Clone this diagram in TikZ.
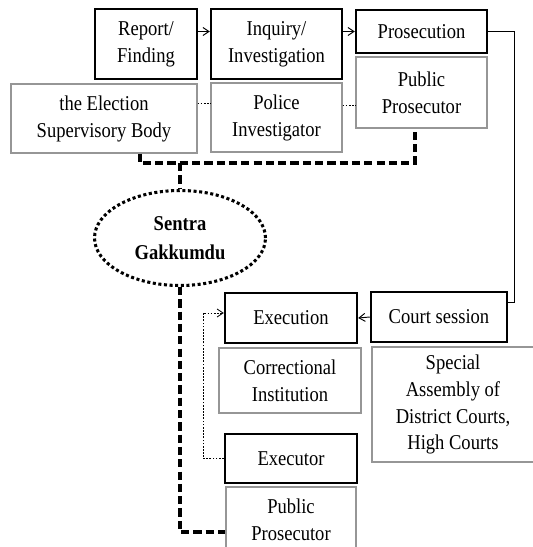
\documentclass[tikz,border=0pt]{standalone}
\usepackage{fontspec}
\setmainfont{Liberation Serif}[FakeStretch=0.88]
\usepackage{tikz}
\usetikzlibrary{shapes.geometric, arrows.meta, positioning, calc}
\definecolor{boxgray}{RGB}{150, 150, 150}

\begin{document}
\begin{tikzpicture}[
    x=0.03cm, y=-0.03cm,
    >={Straight Barb[length=1.8mm, width=2.4mm]},
    stage/.style={
        rectangle, draw=black, line width=2.1pt, inner sep=0pt,
        align=center, font=\fontsize{18}{23}\selectfont
    },
    actor/.style={
        rectangle, draw=boxgray, line width=0.9pt, inner sep=0pt,
        align=center, font=\fontsize{18}{23}\selectfont
    },
    hub/.style={
        ellipse, draw=black, line width=2.6pt, dash pattern=on 2.6pt off 2.2pt,
        inner sep=0pt, align=center, font=\fontsize{18}{25}\selectfont\bfseries
    },
    flow/.style={draw=black, line width=0.8pt},
    link/.style={draw=black, line width=0.7pt, dash pattern=on 1.5pt off 1.2pt},
    bus/.style={draw=black, line width=2.6pt, dash pattern=on 7pt off 3.5pt}
]
    \useasboundingbox (0,0) rectangle (533,547);

    % Top row: process stages
    \node[stage, minimum width=3.06cm, minimum height=2.1cm] (report) at (146, 44) {Report/\\Finding};
    \node[stage, minimum width=3.93cm, minimum height=2.1cm] (inquiry) at (276.5, 44) {Inquiry/\\Investigation};
    \node[stage, minimum width=3.93cm, minimum height=1.29cm] (prosec) at (421.5, 31.5) {Prosecution};

    % Second row: actors of the stages
    \node[actor, minimum width=5.58cm, minimum height=2.07cm] (bawaslu) at (104, 118.5) {the Election\\Supervisory Body};
    \node[actor, minimum width=3.93cm, minimum height=2.07cm] (police) at (276.5, 117.5) {Police\\Investigator};
    \node[actor, minimum width=3.93cm, minimum height=2.13cm] (pp_top) at (421.5, 92.5) {Public\\Prosecutor};

    % Centre: integrated law enforcement centre
    \node[hub, minimum width=5.13cm, minimum height=2.85cm] (gakkumdu) at (180, 238) {Sentra\\Gakkumdu};

    % Lower part: court and execution
    \node[stage, minimum width=4.08cm, minimum height=1.5cm] (court) at (439, 317) {Court session};
    \node[stage, minimum width=3.96cm, minimum height=1.5cm] (execution) at (291, 318) {Execution};
    \node[actor, minimum width=4.26cm, minimum height=1.95cm] (correct) at (290, 380.5) {Correctional\\Institution};
    \node[actor, minimum width=4.86cm, minimum height=3.45cm] (special) at (453, 404.5) {Special\\Assembly of\\District Courts,\\High Courts};
    \node[stage, minimum width=3.96cm, minimum height=1.47cm] (executor) at (291, 458.5) {Executor};
    \node[actor, minimum width=3.9cm, minimum height=1.98cm] (pp_bot) at (291, 520) {Public\\Prosecutor};

    % --- Connections ---
    \coordinate (bend) at (514, 302);
    \coordinate (loop) at (203, 313);
    \coordinate (j1) at (140, 163);
    \coordinate (j2) at (415, 163);
    \coordinate (j3) at (180, 532);

    % Stage flow
    \draw[flow, ->] (report.east |- prosec) -- (inquiry.west |- prosec);
    \draw[flow, ->] (inquiry.east |- prosec) -- (prosec.west);
    \draw[flow] (prosec.east) -| (bend) -- (bend -| court.east);
    \draw[flow, ->] (court.west) -- (execution.east);
    \draw[link, ->] (executor.west) -| (loop) -- (loop -| execution.west);

    % Actor links
    \draw[link] ([yshift=0.45cm]bawaslu.east) -- ([yshift=0.45cm]bawaslu.east -| police.west);
    \draw[link] ([yshift=0.375cm]police.east) -- ([yshift=0.375cm]police.east -| pp_top.west);

    % Sentra Gakkumdu members
    \draw[bus] (j1 |- bawaslu.south) -- (j1) -- (j2) -- (j2 |- pp_top.south);
    \draw[bus] (gakkumdu.north |- j1) -- (gakkumdu.north);
    \draw[bus] (gakkumdu.south) -- (j3) -- (j3 -| pp_bot.west);

\end{tikzpicture}
\end{document}
